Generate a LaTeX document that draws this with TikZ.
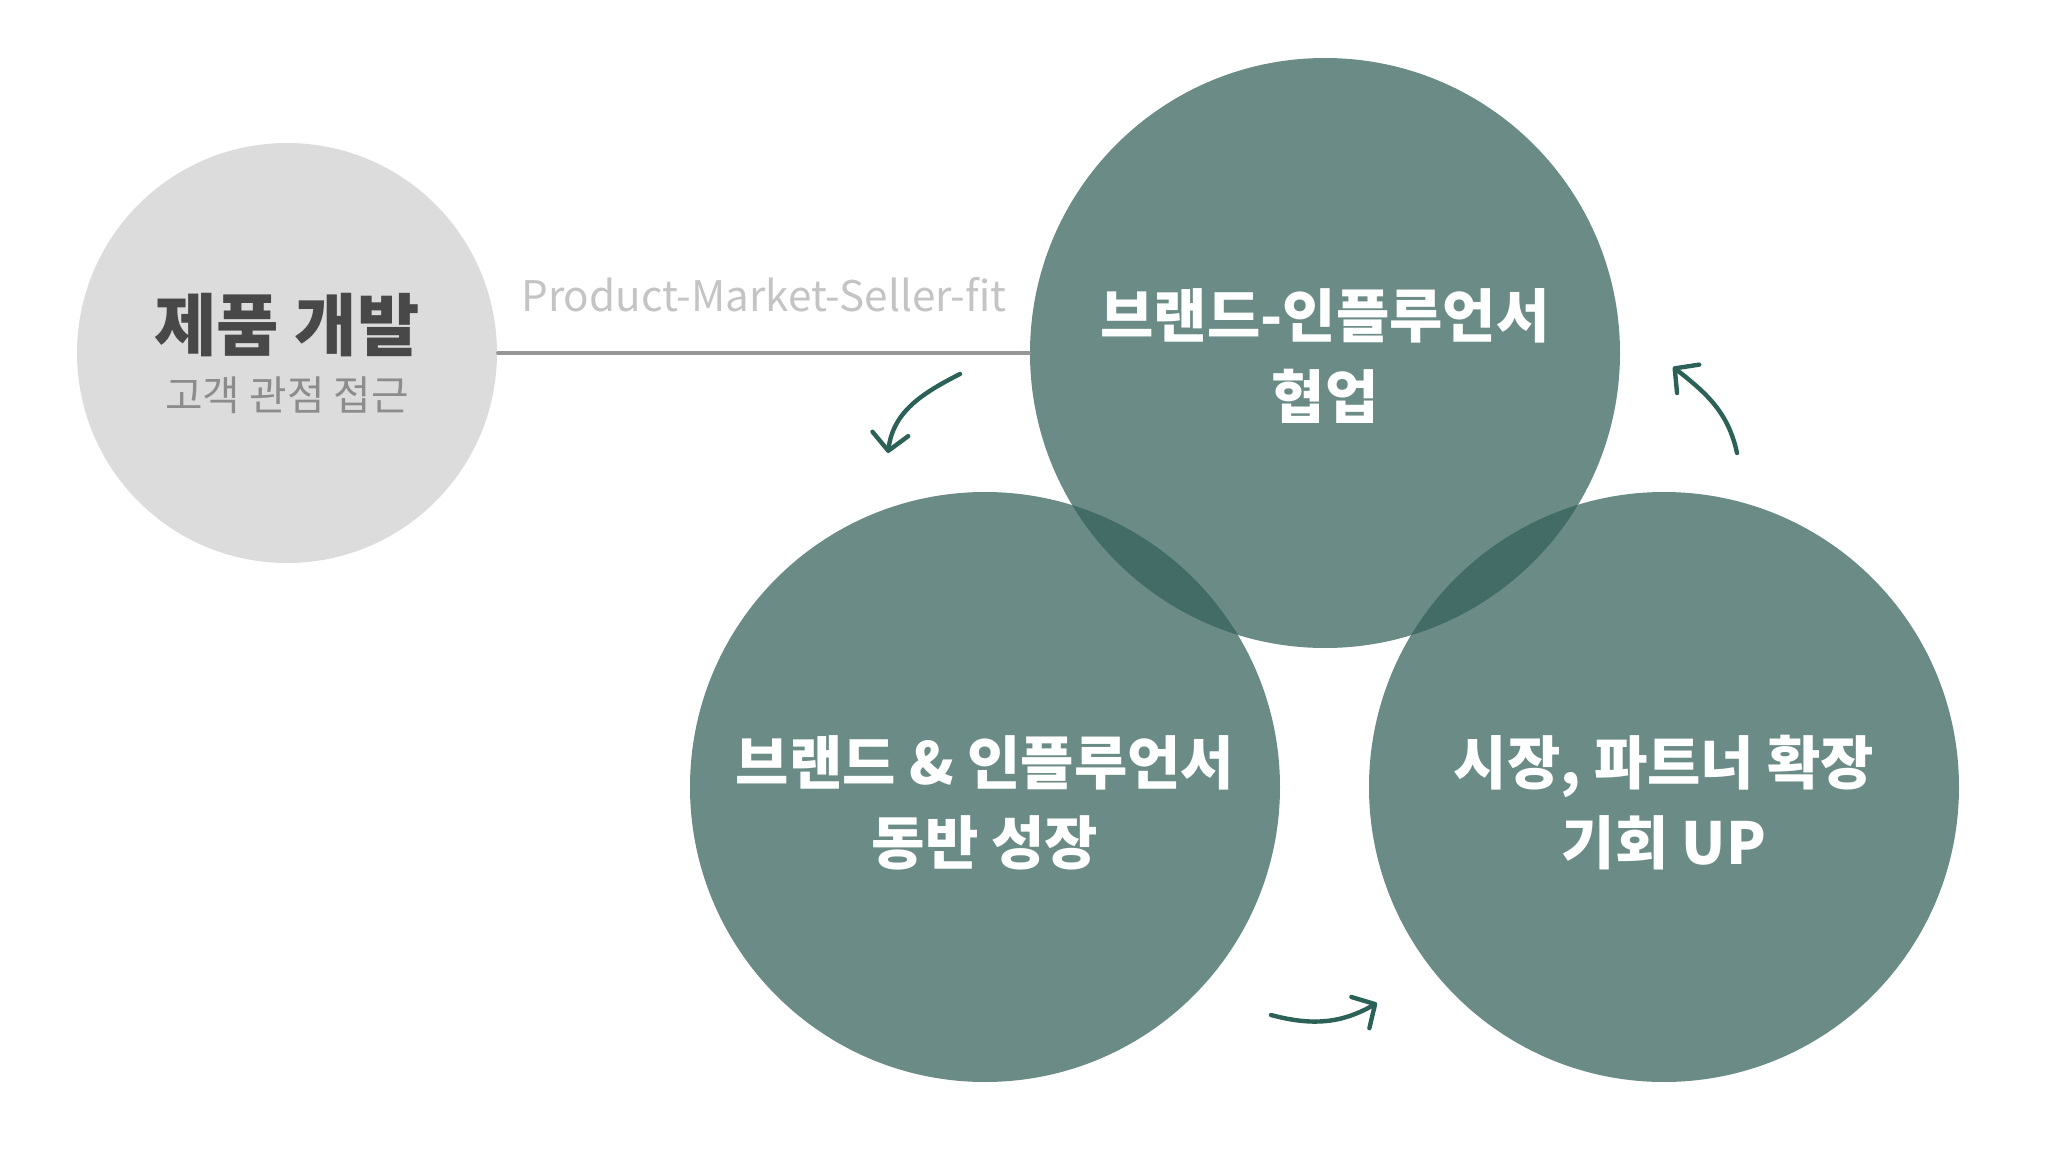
\documentclass[tikz,border=0pt]{standalone}
\usepackage{fontspec}
\setmainfont{Noto Sans CJK KR}
\usetikzlibrary{arrows.meta}
\definecolor{sage}{RGB}{50,95,88}
\definecolor{pale}{RGB}{220,220,220}
\definecolor{ink}{RGB}{72,72,72}
\definecolor{mist}{RGB}{140,140,140}
\definecolor{fog}{RGB}{196,196,196}
\definecolor{rulegray}{RGB}{150,150,150}
\definecolor{pine}{RGB}{44,97,87}

\begin{document}
\begin{tikzpicture}[line cap=round,
  bubble/.style={circle,fill=sage,fill opacity=0.72,minimum size=5.9cm,inner sep=0pt},
  bubbletext/.style={text=white,align=center,font=\fontsize{16.5}{22.8}\selectfont\bfseries},
  turn/.style={pine,line width=1.25pt,-{Straight Barb[length=1.7mm,width=3.6mm,round]}}]
  \useasboundingbox (0,0) rectangle (20.48,-11.69);
  % product side
  \node[circle,fill=pale,minimum size=4.2cm,inner sep=0pt] (dev) at (2.87,-3.53) {};
  \node[font=\fontsize{19.3}{21}\selectfont\bfseries,text=ink] (devtitle) at (2.87,-3.25) {제품 개발};
  \node[font=\fontsize{11.6}{13}\selectfont,text=mist] (devsub) at (2.87,-3.95) {고객 관점 접근};
  % the three partner circles
  \foreach \nm/\x/\y in {collab/13.25/-3.53,grow/9.85/-7.87,reach/16.64/-7.87}
    \node[bubble] (\nm) at (\x,\y) {};
  \node[bubbletext] (collabtxt) at (13.25,-3.56) {브랜드-인플루언서\\협업};
  \node[bubbletext] (growtxt) at (9.85,-8.03) {브랜드 \& 인플루언서\\동반 성장};
  \node[bubbletext] (reachtxt) at (16.64,-8.03) {시장, 파트너 확장\\기회 UP};
  % link
  \draw[rulegray,line width=0.9pt] (dev.east) -- (collab.west);
  \node[font=\fontsize{12}{14}\selectfont,text=fog] (pmsf) at (7.64,-2.95) {Product-Market-Seller-fit};
  % cycle arrows
  \coordinate (t1a) at (9.60,-3.74); \coordinate (t1b) at (8.88,-4.53);
  \coordinate (t2a) at (12.71,-10.15); \coordinate (t2b) at (13.77,-10.03);
  \coordinate (t3a) at (17.37,-4.53); \coordinate (t3b) at (16.73,-3.67);
  \draw[turn] (t1a) to[out=207,in=83] (t1b);
  \draw[turn] (t2a) to[out=-15,in=210] (t2b);
  \draw[turn] (t3a) to[out=102,in=-38] (t3b);
\end{tikzpicture}
\end{document}
